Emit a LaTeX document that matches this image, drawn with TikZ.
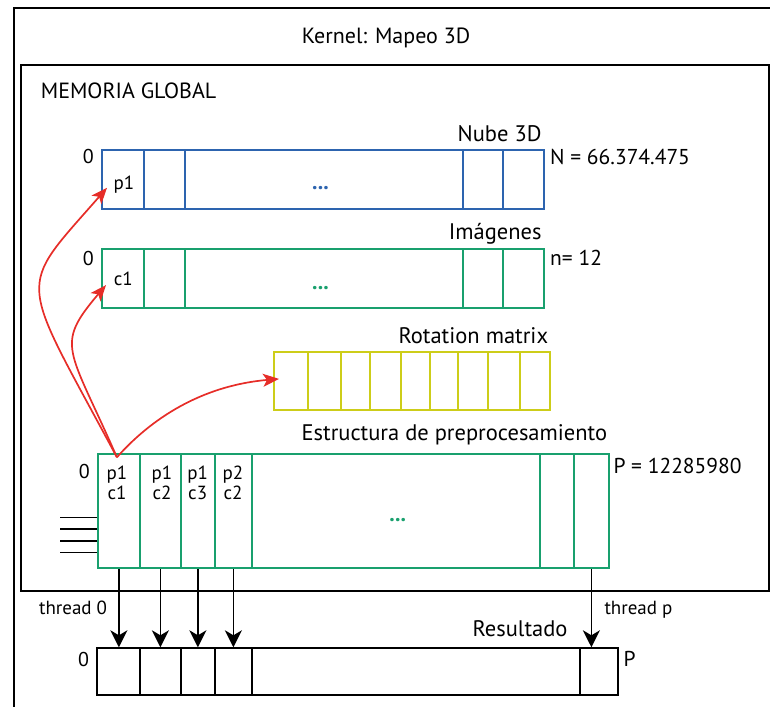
\documentclass[tikz,border=0pt]{standalone}
\usepackage{fontspec}
\setmainfont{PT Sans}
\usetikzlibrary{arrows.meta,positioning}
\definecolor{nubeblue}{RGB}{45,100,175}
\definecolor{imggreen}{RGB}{25,160,110}
\definecolor{rotyellow}{RGB}{205,205,25}
\definecolor{ptrred}{RGB}{230,45,40}

\begin{document}
\begin{tikzpicture}[x=1pt, y=-1pt,
    frame/.style={draw, line width=1.8pt, inner sep=0pt, anchor=north west},
    cell/.style={draw, line width=1.8pt, inner sep=0pt, anchor=north west},
    nubecell/.style={cell, draw=nubeblue, minimum height=59pt},
    imgcell/.style={cell, draw=imggreen, minimum height=59pt},
    rotcell/.style={cell, draw=rotyellow, minimum height=58pt},
    estcell/.style={cell, draw=imggreen, minimum height=114pt},
    rescell/.style={cell, minimum height=47pt},
    title/.style={font=\fontsize{22}{24}\selectfont, inner sep=0pt},
    lbl/.style={font=\fontsize{22.5}{24}\selectfont, inner sep=0pt},
    sizelbl/.style={font=\fontsize{21.5}{24}\selectfont, inner sep=0pt},
    idx/.style={font=\fontsize{20}{22}\selectfont, inner sep=0pt},
    celltxt/.style={font=\fontsize{19}{20}\selectfont, inner sep=0pt, align=center},
    dots/.style={font=\fontsize{22}{24}\selectfont\bfseries, inner sep=0pt},
    pointer/.style={draw=ptrred, line width=1.7pt, -{Stealth[length=16pt, width=13pt, inset=4pt]}},
    thread/.style={draw, line width=1.8pt, -{Stealth[length=17pt, width=17pt, inset=5pt]}},
    wire/.style={draw, line width=1.6pt}
]
\clip (0,0) rectangle (770,706);

% marcos
\node[frame, minimum width=800pt, minimum height=740pt] (kernel) at (12.7,7.3) {};
\node[frame, minimum width=748pt, minimum height=526pt] (memoria) at (20,64) {};
\node[title, anchor=base] (kname) at (386,43.3) {Kernel: Mapeo 3D};
\node[title, anchor=base west] (mname) at (40.7,99) {MEMORIA GLOBAL};

% Nube 3D
\node[nubecell, minimum width=42pt] (nube1) at (101,149) {};
\node[nubecell, minimum width=41pt] (nube2) at (143,149) {};
\node[nubecell, minimum width=278pt] (nube3) at (184,149) {};
\node[nubecell, minimum width=40pt] (nube4) at (462,149) {};
\node[nubecell, minimum width=41pt] (nube5) at (502,149) {};
\node[celltxt, anchor=base] (p1) at (124,189.3) {p1};
\node[dots, text=nubeblue] (ndots) at (320.5,188.3) {...};
\node[lbl, anchor=base east] (nname) at (541.7,141.7) {Nube 3D};
\node[sizelbl, anchor=base west] (nsize) at (550,164.3) {N = 66.374.475};
\node[idx, anchor=base east] (n0) at (94,163.7) {0};

% Imagenes
\node[imgcell, minimum width=42pt] (img1) at (101,248.3) {};
\node[imgcell, minimum width=41pt] (img2) at (143,248.3) {};
\node[imgcell, minimum width=278pt] (img3) at (184,248.3) {};
\node[imgcell, minimum width=40pt] (img4) at (462,248.3) {};
\node[imgcell, minimum width=41pt] (img5) at (502,248.3) {};
\node[celltxt, anchor=base] (c1) at (123.3,285.7) {c1};
\node[dots, text=imggreen] (idots) at (320.5,288.3) {...};
\node[lbl, anchor=base east] (iname) at (541.7,239.3) {Imágenes};
\node[sizelbl, anchor=base west] (isize) at (550,265.7) {n= 12};
\node[idx, anchor=base east] (i0) at (94,265.7) {0};

% Rotation matrix
\node[rotcell, minimum width=34pt] (rot1) at (273,351) {};
\node[rotcell, minimum width=33pt] (rot2) at (307,351) {};
\node[rotcell, minimum width=29pt] (rot3) at (340,351) {};
\node[rotcell, minimum width=31pt] (rot4) at (369,351) {};
\node[rotcell, minimum width=29pt] (rot5) at (400,351) {};
\node[rotcell, minimum width=28pt] (rot6) at (429,351) {};
\node[rotcell, minimum width=30pt] (rot7) at (457,351) {};
\node[rotcell, minimum width=32pt] (rot8) at (487,351) {};
\node[rotcell, minimum width=30pt] (rot9) at (519,351) {};
\node[lbl, anchor=base east] (rname) at (548.3,343.3) {Rotation matrix};

% Estructura de preprocesamiento
\node[estcell, minimum width=42pt] (est1) at (97,453.3) {};
\node[estcell, minimum width=41pt] (est2) at (139,453.3) {};
\node[estcell, minimum width=34pt] (est3) at (180,453.3) {};
\node[estcell, minimum width=37pt] (est4) at (214,453.3) {};
\node[estcell, minimum width=288pt] (est5) at (251,453.3) {};
\node[estcell, minimum width=34pt] (est6) at (539,453.3) {};
\node[estcell, minimum width=35pt] (est7) at (573,453.3) {};
\node[celltxt, anchor=north] (e1) at (117,465.7) {p1\\c1};
\node[celltxt, anchor=north] (e2) at (162,465.7) {p1\\c2};
\node[celltxt, anchor=north] (e3) at (197.7,465.7) {p1\\c3};
\node[celltxt, anchor=north] (e4) at (233,465.7) {p2\\c2};
\node[dots, text=imggreen] (edots) at (397.7,520) {...};
\node[lbl, anchor=base east] (ename) at (607.3,440.7) {Estructura de preprocesamiento};
\node[sizelbl, anchor=base west] (esize) at (613.3,473.3) {P = 12285980};
\node[idx, anchor=base east] (e0) at (90,478.3) {0};
\draw[wire] ([yshift=-6.4pt]est1.west) -- ++(-37,0);
\draw[wire] ([yshift=-18pt]est1.west) -- ++(-37,0);
\draw[wire] ([yshift=-29.7pt]est1.west) -- ++(-37,0);
\draw[wire] ([yshift=-41.4pt]est1.west) -- ++(-37,0);

% Resultado
\node[rescell, minimum width=43pt] (res1) at (96,647.3) {};
\node[rescell, minimum width=41pt] (res2) at (139,647.3) {};
\node[rescell, minimum width=34pt] (res3) at (180,647.3) {};
\node[rescell, minimum width=37pt] (res4) at (214,647.3) {};
\node[rescell, minimum width=328pt] (res5) at (251,647.3) {};
\node[rescell, minimum width=38pt] (res6) at (579,647.3) {};
\node[lbl, anchor=base east] (rsname) at (567.7,636) {Resultado};
\node[sizelbl, anchor=base west] (rsize) at (623.3,666) {P};
\node[idx, anchor=base east] (r0) at (89.3,666) {0};

% hilos
\draw[thread] (est1.south) -- (est1.south |- res1.north);
\draw[thread] (est2.south) -- (est2.south |- res2.north);
\draw[thread] (est3.south) -- (est3.south |- res3.north);
\draw[thread] (est4.south) -- (est4.south |- res4.north);
\draw[thread] (est7.south) -- (est7.south |- res6.north);
\node[celltxt, anchor=base east] (th0) at (107.3,614.3) {thread 0};
\node[celltxt, anchor=base west] (thp) at (604.3,614.3) {thread p};

% punteros
\draw[pointer] ([xshift=-2pt,yshift=-4pt]est1.north) .. controls +(-99,-185) and +(-92,105) .. ([xshift=6pt,yshift=22pt]nube1.south west);
\draw[pointer] ([xshift=-2pt,yshift=-4pt]est1.north) .. controls +(-48,-110) and +(-52,61) .. ([xshift=5pt,yshift=24pt]img1.south west);
\draw[pointer] ([xshift=-2pt,yshift=-4pt]est1.north) .. controls +(40,-45) and +(-70,6) .. ([xshift=6pt,yshift=2pt]rot1.west);
\end{tikzpicture}
\end{document}
